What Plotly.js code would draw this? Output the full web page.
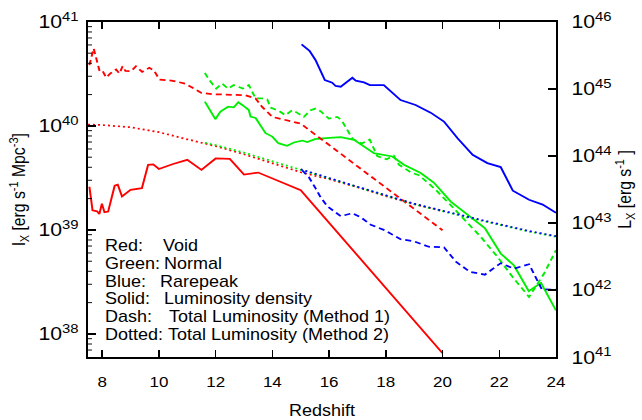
<!DOCTYPE html>
<html>
<head>
<meta charset="utf-8">
<script src="https://cdn.plot.ly/plotly-3.0.1.min.js"></script>
<style>
html,body{margin:0;padding:0;background:#fff;overflow:hidden;}
#wrap{width:642px;height:420px;overflow:hidden;}
#plot{width:642px;height:480px;transform:scaleY(0.875);transform-origin:0 0;}
</style>
</head>
<body>
<div id="wrap"><div id="plot"></div></div>
<script>
// Void (red)
const zVoidSolid = [7.55, 7.66, 7.82, 7.90, 7.99, 8.08, 8.21, 8.44, 8.55, 8.70, 9.0, 9.4, 9.62, 9.8, 10.0, 10.5, 11.0, 11.5, 12.0, 12.5, 13.0, 13.5, 15.0, 20.0];
const lVoidSolid = [2.60e39, 1.54e39, 1.51e39, 1.42e39, 1.79e39, 1.48e39, 1.50e39, 2.66e39, 2.72e39, 2.10e39, 2.43e39, 2.52e39, 4.23e39, 4.26e39, 3.85e39, 4.30e39, 4.72e39, 3.78e39, 4.86e39, 4.81e39, 3.40e39, 3.56e39, 2.41e39, 6.52e37];
const zVoidDash = [7.55, 7.70, 7.90, 7.99, 8.14, 8.29, 8.49, 8.61, 8.72, 8.82, 9.02, 9.19, 9.41, 9.66, 9.82, 10.02, 10.49, 10.93, 11.50, 11.88, 13.05, 13.41, 13.64, 14.00, 15.0, 20.0];
const LVoidDash = [2.26e45, 4.01e45, 1.90e45, 1.95e45, 1.48e45, 1.70e45, 1.95e45, 1.70e45, 2.18e45, 1.86e45, 1.84e45, 2.18e45, 1.79e45, 2.06e45, 1.90e45, 1.38e45, 1.32e45, 1.20e45, 8.71e44, 8.34e44, 8.05e44, 7.19e44, 5.38e44, 3.82e44, 3.03e44, 7.78e42];
const zVoidDot = [7.5, 8, 9, 10, 11, 12, 13, 14, 15, 16, 17, 18, 19, 20];
const LVoidDot = [2.94e44, 2.89e44, 2.68e44, 2.26e44, 1.77e44, 1.40e44, 1.06e44, 7.78e43, 5.71e43, 4.49e43, 3.41e43, 2.51e43, 1.90e43, 1.50e43];

// Normal (green)
const zNormalSolid = [11.62, 11.99, 12.17, 12.44, 12.64, 12.80, 12.94, 13.17, 13.23, 13.41, 13.76, 14.00, 14.21, 14.52, 14.76, 15.05, 15.23, 15.50, 15.88, 16.41, 16.88, 17.58, 18.23, 18.64, 19.23, 19.70, 20.29, 21.00, 21.49, 22.05, 22.52, 23.04, 23.47, 24.0];
const lNormalSolid = [1.71e40, 1.16e40, 1.37e40, 1.53e40, 1.51e40, 1.69e40, 1.59e40, 1.42e40, 1.23e40, 1.19e40, 8.51e39, 7.89e39, 6.82e39, 6.43e39, 6.92e39, 7.23e39, 6.98e39, 7.45e39, 7.62e39, 7.80e39, 7.35e39, 5.47e39, 5.08e39, 4.23e39, 3.52e39, 2.84e39, 1.87e39, 1.31e39, 1.04e39, 5.93e38, 4.55e38, 2.58e38, 3.10e38, 1.68e38];
const zNormalDash = [11.62, 11.78, 12.02, 12.23, 12.44, 12.64, 12.82, 12.96, 13.17, 13.41, 13.64, 13.82, 13.94, 14.23, 14.46, 14.70, 14.88, 15.11, 15.35, 15.52, 15.70, 15.99, 16.29, 16.44, 16.82, 17.15, 17.43, 17.70, 18.03, 18.28, 18.46, 18.91, 19.17, 19.70, 20.29, 21.35, 21.94, 22.47, 23.05, 23.58, 24.0];
const LNormalDash = [1.73e45, 1.35e45, 1.01e45, 1.20e45, 1.01e45, 1.14e45, 1.07e45, 1.01e45, 1.14e45, 7.19e44, 7.19e44, 6.95e44, 5.27e44, 4.70e44, 4.05e44, 4.81e44, 4.39e44, 3.82e44, 4.81e44, 5.09e44, 4.65e44, 3.61e44, 3.82e44, 3.41e44, 1.81e44, 1.53e44, 1.76e44, 9.91e43, 8.93e43, 1.01e44, 7.40e43, 5.61e43, 5.15e43, 3.30e43, 1.84e43, 6.18e42, 3.11e42, 1.56e42, 7.87e41, 1.76e42, 3.92e42];
const zNormalDot = [11.62, 12, 13, 14, 15, 16, 17, 18, 19, 20, 21, 22, 23, 24];
const LNormalDot = [1.57e44, 1.45e44, 1.12e44, 8.34e43, 6.10e43, 4.57e43, 3.41e43, 2.55e43, 1.90e43, 1.50e43, 1.17e43, 9.40e42, 7.52e42, 6.22e42];

// Rarepeak (blue)
const zRareSolid = [15.03, 15.31, 15.52, 15.70, 15.85, 16.11, 16.23, 16.41, 16.58, 16.82, 16.94, 17.23, 17.44, 17.93, 18.52, 19.05, 19.58, 20.05, 20.53, 21.06, 21.58, 22.05, 22.48, 23.05, 23.53, 24.0];
const lRareSolid = [6.07e40, 5.27e40, 4.30e40, 3.44e40, 2.76e40, 2.60e40, 2.42e40, 2.38e40, 2.60e40, 2.90e40, 2.72e40, 2.62e40, 2.47e40, 2.47e40, 1.77e40, 1.59e40, 1.34e40, 1.10e40, 7.62e39, 5.27e39, 4.39e39, 4.02e39, 2.38e39, 1.95e39, 1.75e39, 1.46e39];
const zRareDash = [15.05, 15.29, 15.52, 15.70, 15.94, 16.41, 16.82, 17.11, 17.47, 17.96, 18.52, 18.98, 19.51, 20.05, 20.47, 20.96, 21.49, 22.05, 22.52, 23.05, 23.50, 24.0];
const LRareDash = [6.12e43, 4.81e43, 3.30e43, 2.42e43, 1.77e43, 1.26e43, 1.40e43, 1.22e43, 9.40e42, 7.78e42, 5.71e42, 5.33e42, 4.42e42, 4.34e42, 2.64e42, 1.87e42, 1.69e42, 2.51e42, 2.08e42, 2.42e42, 1.02e42, 1.01e42];
const zRareDot = [15, 16, 17, 18, 19, 20, 21, 22, 23, 24];
const LRareDot = [6.32e43, 4.65e43, 3.47e43, 2.59e43, 1.94e43, 1.52e43, 1.20e43, 9.57e42, 7.66e42, 6.34e42];

// Key text
const keyLabels = ['Red:', 'Green:', 'Blue:', 'Solid:', 'Dash:', 'Dotted:'];
const keyTexts = ['Void', 'Normal', 'Rarepeak', 'Luminosity density', 'Total Luminosity (Method 1)', 'Total Luminosity (Method 2)'];

const RED = '#ff0000', GREEN = '#00ee00', BLUE = '#0000ff';
const DASH = '6px,4px', DOT = '2px,3px';
const W = 2;

function tr(x, y, color, dash, axis) {
  return {x: x, y: y, type: 'scatter', mode: 'lines', yaxis: axis,
    line: {color: color, width: W, dash: dash}, hoverinfo: 'skip', showlegend: false};
}

const data = [
  tr(zVoidSolid, lVoidSolid, RED, 'solid', 'y'),
  tr(zNormalSolid, lNormalSolid, GREEN, 'solid', 'y'),
  tr(zRareSolid, lRareSolid, BLUE, 'solid', 'y'),
  tr(zVoidDash, LVoidDash, RED, DASH, 'y2'),
  tr(zVoidDot, LVoidDot, RED, DOT, 'y2'),
  tr(zNormalDash, LNormalDash, GREEN, DASH, 'y2'),
  tr(zNormalDot, LNormalDot, GREEN, DOT, 'y2'),
  tr(zRareDash, LRareDash, BLUE, DASH, 'y2'),
  tr(zRareDot, LRareDot, BLUE, DOT, 'y2')
];

const FONT = 'Liberation Sans, Arial, Helvetica, sans-serif';
const keyY = [0.331, 0.278, 0.225, 0.172, 0.119, 0.066];
const keyX2 = [0.156, 0.159, 0.150, 0.159, 0.168, 0.167];
const annotations = [];
keyLabels.forEach(function (lab, i) {
  annotations.push({xref: 'paper', yref: 'paper', x: 0.031, y: keyY[i], xanchor: 'left', yanchor: 'middle',
    text: lab, showarrow: false, font: {family: FONT, size: 18, color: '#000'}});
  annotations.push({xref: 'paper', yref: 'paper', x: keyX2[i], y: keyY[i], xanchor: 'left', yanchor: 'middle',
    text: keyTexts[i], showarrow: false, font: {family: FONT, size: 18, color: '#000'}});
});

const layout = {
  width: 642, height: 480,
  margin: {l: 88, r: 86, t: 25, b: 72, pad: 0},
  paper_bgcolor: '#fff', plot_bgcolor: '#fff',
  font: {family: FONT, size: 17, color: '#000'},
  showlegend: false,
  xaxis: {
    range: [7.5, 24], tick0: 0, dtick: 2, ticks: 'inside', ticklen: 8, tickwidth: 1.5, tickcolor: '#000',
    showline: true, linewidth: 2, linecolor: '#000', mirror: 'ticks', showgrid: false, zeroline: false,
    ticklabelstandoff: 12,
    title: {text: 'Redshift', standoff: 17, font: {size: 18}}
  },
  yaxis: {
    type: 'log', range: [Math.log10(6e37), 41], dtick: 1, exponentformat: 'power',
    ticks: 'inside', ticklen: 8, tickwidth: 1.5, tickcolor: '#000',
    minor: {ticks: 'inside', ticklen: 4, tickwidth: 1, tickcolor: '#000', dtick: 'D1', showgrid: false},
    showline: true, linewidth: 2, linecolor: '#000', mirror: true, showgrid: false, zeroline: false,
    ticklabelstandoff: 4,
    title: {text: 'l<sub>X</sub> [erg s<sup>-1</sup> Mpc<sup>-3</sup>]', standoff: 8, font: {size: 18}}
  },
  yaxis2: {
    type: 'log', overlaying: 'y', side: 'right', range: [41, 46], dtick: 1, exponentformat: 'power',
    ticks: 'inside', ticklen: 8, tickwidth: 1.5, tickcolor: '#000',
    showline: true, linewidth: 2, linecolor: '#000', showgrid: false, zeroline: false,
    ticklabelstandoff: 10,
    title: {text: 'L<sub>X</sub> [erg s<sup>-1</sup> ]', standoff: 8, font: {size: 18}}
  },
  annotations: annotations
};

Plotly.newPlot('plot', data, layout, {staticPlot: true, displayModeBar: false});
</script>
</body>
</html>
